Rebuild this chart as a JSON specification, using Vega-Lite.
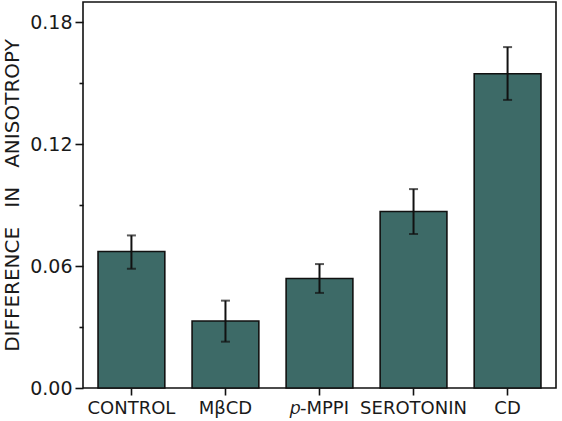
{
  "$schema": "https://vega.github.io/schema/vega-lite/v6.json",
  "width": 473,
  "height": 386,
  "autosize": {"type": "none"},
  "padding": {"left": 83, "top": 2, "right": 6, "bottom": 33},
  "background": "white",
  "config": {
    "view": {"stroke": "#111", "strokeWidth": 1.6},
    "font": "DejaVu Sans",
    "axis": {
      "labelFont": "DejaVu Sans",
      "titleFont": "DejaVu Sans",
      "labelColor": "#1a1a1a",
      "titleColor": "#1a1a1a",
      "tickColor": "#111",
      "domainColor": "#111",
      "grid": false
    }
  },
  "data": {
    "values": [
      {"group": "CONTROL", "value": 0.0672, "lo": 0.0587, "hi": 0.0751},
      {"group": "MβCD", "value": 0.0330, "lo": 0.0228, "hi": 0.0430},
      {"group": "𝑝-MPPI", "value": 0.0539, "lo": 0.0468, "hi": 0.0610},
      {"group": "SEROTONIN", "value": 0.0869, "lo": 0.0758, "hi": 0.0979},
      {"group": "CD", "value": 0.1547, "lo": 0.1418, "hi": 0.1678}
    ]
  },
  "encoding": {
    "x": {
      "field": "group",
      "type": "nominal",
      "sort": null,
      "scale": {"paddingInner": 0.29, "paddingOuter": 0.16},
      "axis": {
        "title": null,
        "labelAngle": 0,
        "labelFontSize": 18,
        "labelPadding": 4,
        "tickSize": 7,
        "tickWidth": 1.6,
        "domain": false
      }
    }
  },
  "layer": [
    {
      "mark": {"type": "bar", "color": "#3d6a67", "stroke": "#111", "strokeWidth": 1.6},
      "encoding": {
        "y": {
          "field": "value",
          "type": "quantitative",
          "scale": {"domain": [0, 0.19], "nice": false},
          "axis": {
            "values": [0, 0.03, 0.06, 0.09, 0.12, 0.15, 0.18],
            "labelExpr": "round(datum.value * 100) % 6 == 0 ? format(datum.value, '.2f') : ''",
            "tickSize": {"expr": "round(datum.value * 100) % 6 == 0 ? 8 : 4"},
            "title": "DIFFERENCE\u00a0\u00a0\u00a0IN\u00a0\u00a0\u00a0ANISOTROPY",
            "titleFontSize": 20,
            "titleFontWeight": "normal",
            "titlePadding": 7,
            "labelFontSize": 19,
            "labelPadding": 3,
            "tickWidth": 1.6,
            "domain": false
          }
        }
      }
    },
    {
      "mark": {"type": "rule", "color": "#111", "strokeWidth": 2},
      "encoding": {
        "y": {"field": "lo", "type": "quantitative"},
        "y2": {"field": "hi"}
      }
    },
    {
      "mark": {"type": "tick", "color": "#111", "thickness": 2, "size": 9},
      "encoding": {"y": {"field": "lo", "type": "quantitative"}}
    },
    {
      "mark": {"type": "tick", "color": "#111", "thickness": 2, "size": 9},
      "encoding": {"y": {"field": "hi", "type": "quantitative"}}
    }
  ]
}
